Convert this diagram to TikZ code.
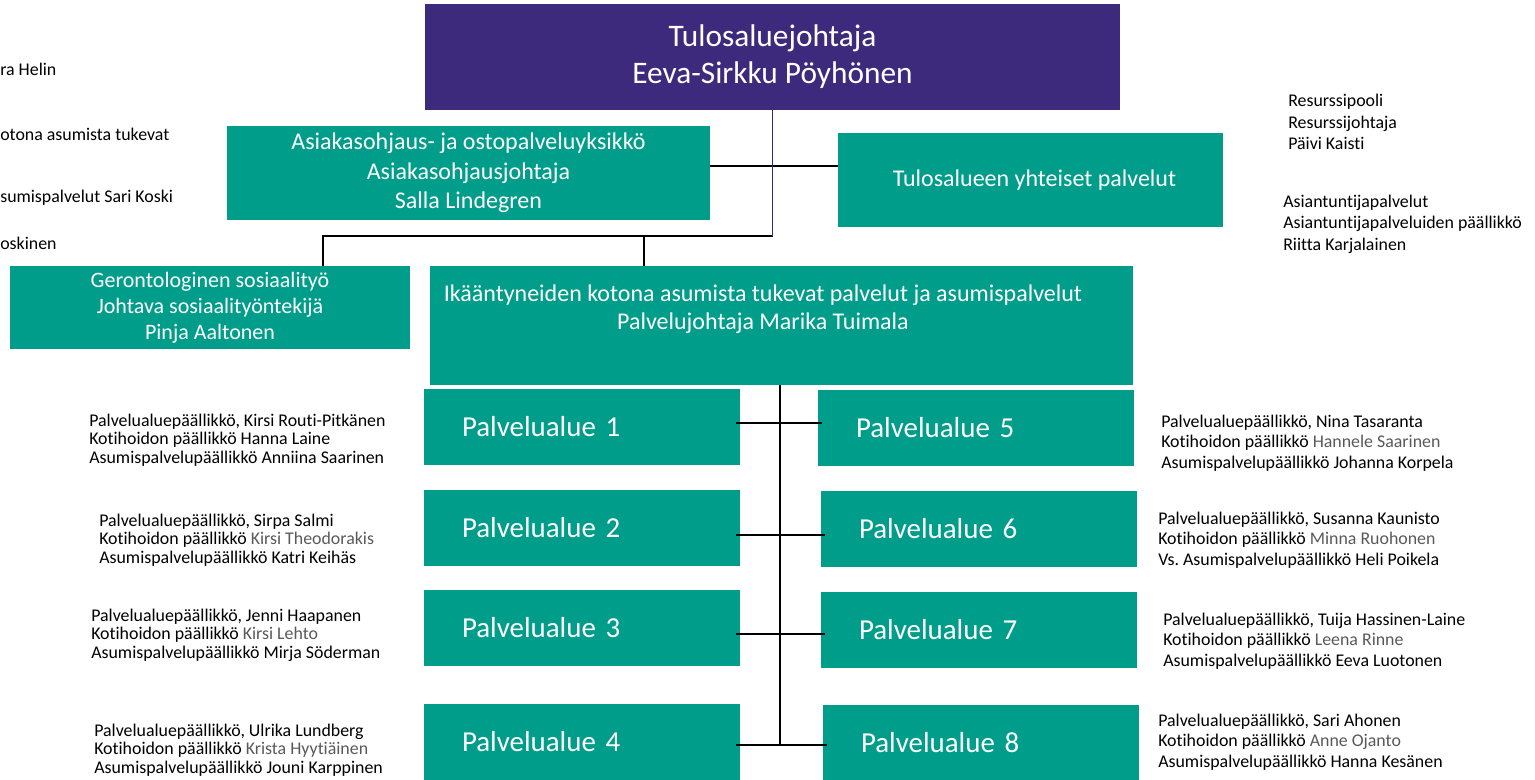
\documentclass[tikz,border=0pt]{standalone}
\usepackage{fontspec}
\setmainfont{Carlito}[Ligatures={NoCommon,NoContextual}]
\usepackage{tikz}
\usetikzlibrary{positioning, calc}
\usepackage{xcolor}
\definecolor{orgpurple}{RGB}{62, 42, 125}
\definecolor{orgteal}{RGB}{0, 158, 138}
\definecolor{namegray}{RGB}{89, 89, 89}
\tikzstyle{headbox} = [rectangle, fill=orgpurple, text=white, align=center, inner sep=0pt]
\tikzstyle{unitbox} = [rectangle, fill=orgteal, text=white, align=center, inner sep=0pt]
\tikzstyle{areabox} = [rectangle, fill=orgteal, text=white, align=left, inner xsep=28.5pt, inner ysep=0pt,
    minimum width=237pt, minimum height=57pt, text width=180pt, font=\fontsize{21.7}{26}\selectfont]
\tikzstyle{staff} = [anchor=west, align=left, inner sep=0pt, font=\fontsize{13.4}{14}\selectfont]
\tikzstyle{staffwide} = [anchor=west, align=left, inner sep=0pt, font=\fontsize{13.4}{15.4}\selectfont]
\tikzstyle{link} = [line width=1pt, black]
\tikzstyle{headlink} = [line width=0.8pt, orgpurple!85!blue]
\newcommand{\grayname}[1]{\textcolor{namegray}{#1}}
\frenchspacing

\begin{document}
\begin{tikzpicture}[x=0.75pt, y=-0.75pt]
\useasboundingbox (0,0) rectangle (1535,779);
% Management boxes
\node[headbox, minimum width=521.25pt, minimum height=79.5pt, font=\fontsize{23.5}{27.75}\selectfont]
    (head) at (772.5,57) {Tulosaluejohtaja\\Eeva-Sirkku Pöyhönen};
\node[unitbox, minimum width=362.25pt, minimum height=70.5pt, font=\fontsize{18}{22}\selectfont]
    (asia) at (468.5,173) {Asiakasohjaus- ja ostopalveluyksikkö\\Asiakasohjausjohtaja\\Salla Lindegren};
\node[unitbox, minimum width=288.75pt, minimum height=70.5pt, font=\fontsize{18}{22}\selectfont]
    (common) at (1030.5,180) {\hspace*{6pt}Tulosalueen yhteiset palvelut};
\node[unitbox, minimum width=300pt, minimum height=62.25pt, font=\fontsize{16.5}{19.6}\selectfont]
    (geron) at (210,307.5) {Gerontologinen sosiaalityö\\Johtava sosiaalityöntekijä\\Pinja Aaltonen};
\node[unitbox, minimum width=527.25pt, minimum height=89.25pt,
    label={[text=white, align=center, xshift=-13.9pt, yshift=12.4pt, font=\fontsize{18}{21}\selectfont]center:
    Ikääntyneiden kotona asumista tukevat palvelut ja asumispalvelut\\Palvelujohtaja Marika Tuimala}]
    (elder) at (781.5,325.5) {};

% Service areas
\node[areabox] (pa1) at (582,427) {Palvelualue 1};
\node[areabox] (pa2) at (582,528) {Palvelualue 2};
\node[areabox] (pa3) at (582,628) {Palvelualue 3};
\node[areabox] (pa4) at (582,742) {Palvelualue 4};
\node[areabox] (pa5) at (976,428) {Palvelualue 5};
\node[areabox] (pa6) at (979,529) {Palvelualue 6};
\node[areabox] (pa7) at (979,630) {Palvelualue 7};
\node[areabox] (pa8) at (981,743) {Palvelualue 8};

% Connectors
\coordinate (hub) at (773,236);
\coordinate (cross) at (773,166);
\coordinate (gdrop) at (323,236);
\coordinate (edrop) at (644,236);
\draw[link] (asia.east |- cross) -- (common.west |- cross);
\draw[link] (hub) -- (gdrop) -- (gdrop |- geron.north);
\draw[link] (edrop) -- (edrop |- elder.north);
\draw[headlink] (head.south) -- (head.south |- hub);
\foreach \i/\y in {1/423, 2/535, 3/634, 4/745}
    \coordinate (row\i) at (780,\y);
\draw[link] (elder.south -| row1) -- (row4);
\foreach \i/\j in {1/5, 2/6, 3/7, 4/8}
    \draw[link] ([xshift=-3pt]pa\i.east |- row\i) -- ([xshift=3pt]pa\j.west |- row\i);

% Staff texts
\node[staffwide] (cut1) at (0,69) {ra Helin};
\node[staffwide] (cut2) at (0,134) {otona asumista tukevat};
\node[staffwide] (cut3) at (0,198) {sumispalvelut Sari Koski};
\node[staffwide] (cut4) at (0,243) {oskinen};
\node[staffwide, font=\fontsize{13.4}{16.1}\selectfont] (pool) at (1288,122) {Resurssipooli\\Resurssijohtaja\\Päivi Kaisti};
\node[staffwide, font=\fontsize{13.4}{16.1}\selectfont] (expert) at (1283,224) {Asiantuntijapalvelut\\Asiantuntijapalveluiden päällikkö\\Riitta Karjalainen};

\node[staff] (s1) at (89,440) {Palvelualuepäällikkö, Kirsi Routi-Pitkänen\\Kotihoidon päällikkö Hanna Laine\\Asumispalvelupäällikkö Anniina Saarinen};
\node[staff] (s2) at (99,540) {Palvelualuepäällikkö, Sirpa Salmi\\Kotihoidon päällikkö \grayname{Kirsi Theodorakis}\\Asumispalvelupäällikkö Katri Keihäs};
\node[staff] (s3) at (91,635) {Palvelualuepäällikkö, Jenni Haapanen\\Kotihoidon päällikkö \grayname{Kirsi Lehto}\\Asumispalvelupäällikkö Mirja Söderman};
\node[staff] (s4) at (94,750) {Palvelualuepäällikkö, Ulrika Lundberg\\Kotihoidon päällikkö \grayname{Krista Hyytiäinen}\\Asumispalvelupäällikkö Jouni Karppinen};
\node[staffwide] (s5) at (1161,443) {Palvelualuepäällikkö, Nina Tasaranta\\Kotihoidon päällikkö \grayname{Hannele Saarinen}\\Asumispalvelupäällikkö Johanna Korpela};
\node[staffwide] (s6) at (1158,540) {Palvelualuepäällikkö, Susanna Kaunisto\\Kotihoidon päällikkö \grayname{Minna Ruohonen}\\Vs. Asumispalvelupäällikkö Heli Poikela};
\node[staffwide] (s7) at (1163,641) {Palvelualuepäällikkö, Tuija Hassinen-Laine\\Kotihoidon päällikkö \grayname{Leena Rinne}\\Asumispalvelupäällikkö Eeva Luotonen};
\node[staffwide] (s8) at (1158,742) {Palvelualuepäällikkö, Sari Ahonen\\Kotihoidon päällikkö \grayname{Anne Ojanto}\\Asumispalvelupäällikkö Hanna Kesänen};
\end{tikzpicture}
\end{document}
